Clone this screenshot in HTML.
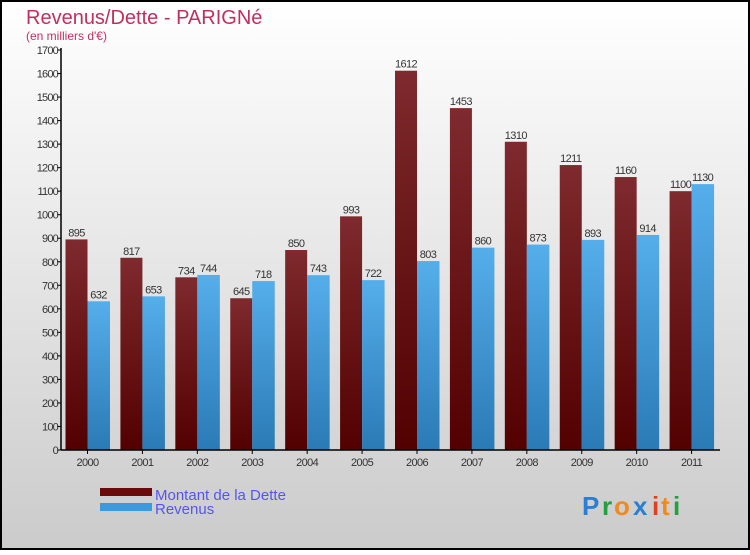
<!DOCTYPE html>
<html><head><meta charset="utf-8"><style>
body{margin:0;width:750px;height:550px;overflow:hidden;font-family:"Liberation Sans",sans-serif}
</style></head><body>
<svg id="c" width="750" height="550" xmlns="http://www.w3.org/2000/svg">
<defs>
<linearGradient id="bg" x1="0" y1="0" x2="0" y2="1"><stop offset="0" stop-color="#ffffff"/><stop offset="1" stop-color="#cbcbcb"/></linearGradient>
<linearGradient id="gd" x1="0" y1="0" x2="0" y2="1"><stop offset="0" stop-color="#7e2a2e"/><stop offset="1" stop-color="#520000"/></linearGradient>
<linearGradient id="gr" x1="0" y1="0" x2="0" y2="1"><stop offset="0" stop-color="#55aeea"/><stop offset="1" stop-color="#2a7ab5"/></linearGradient>
</defs>
<rect x="1" y="1" width="748" height="548" fill="url(#bg)" stroke="#000" stroke-width="2"/>
<text x="26" y="24" font-size="20" fill="#c0305f">Revenus/Dette - PARIGNé</text>
<text x="26" y="40" font-size="12" fill="#c0305f">(en milliers d'€)</text>
<g id="plot"></g>
<rect x="100" y="488" width="52" height="8" fill="#6a0a0a"/>
<rect x="100" y="503" width="52" height="8" fill="#3a9ae0"/>
<text x="155" y="500" font-size="15" fill="#5555ee">Montant de la Dette</text>
<text x="155" y="514" font-size="15" fill="#5555ee">Revenus</text>
<g font-size="26" font-weight="bold">
<text x="582" y="515" fill="#2a7fd0">P</text><text x="602" y="515" fill="#22a040">r</text><text x="614" y="515" fill="#f08a20">o</text><text x="633" y="515" fill="#2a7fd0">x</text><text x="652" y="515" fill="#e04020">i</text><text x="661" y="515" fill="#f08a20">t</text><text x="673" y="515" fill="#22a040">i</text>
</g>
</svg>
<script>
const years=["2000","2001","2002","2003","2004","2005","2006","2007","2008","2009","2010","2011"];
const dette=[895,817,734,645,850,993,1612,1453,1310,1211,1160,1100];
const revenus=[632,653,744,718,743,722,803,860,873,893,914,1130];
const yTicks=[0,100,200,300,400,500,600,700,800,900,1000,1100,1200,1300,1400,1500,1600,1700];
const NS="http://www.w3.org/2000/svg";
const g=document.getElementById('plot');
const X0=61,X1=720,Y0=450,Y1=50,YMAX=1700;
const gw=(X1-X0)/years.length;
const y=v=>Y0-(v/YMAX)*(Y0-Y1);
const xg=i=>X0+i*gw;
function el(t,a,txt){const e=document.createElementNS(NS,t);for(const k in a)e.setAttribute(k,a[k]);if(txt!==undefined)e.textContent=txt;g.appendChild(e);return e;}
yTicks.forEach(v=>{
 const t=el('line',{x1:X0-4,x2:X0,y1:y(v),y2:y(v),stroke:'#000'});
 
 
 const l=el('text',{x:X0-3,y:y(v)+4,'font-size':11,'text-anchor':'end',fill:'#333','letter-spacing':'-0.8'},v);
 
 
});
years.forEach((yr,i)=>{
 const bx=xg(i)+4.5;
 const b1=el('rect',{x:bx,y:y(dette[i]),width:22,height:Y0-y(dette[i]),fill:'url(#gd)'});
 
 
 const b2=el('rect',{x:bx+22,y:y(revenus[i]),width:22.5,height:Y0-y(revenus[i]),fill:'url(#gr)'});
 
 
 const l1=el('text',{x:bx+11,y:y(dette[i])-3,'font-size':11,'text-anchor':'middle',fill:'#333','letter-spacing':'-0.6'},dette[i]);
 
 
 const l2=el('text',{x:bx+33,y:y(revenus[i])-3,'font-size':11,'text-anchor':'middle',fill:'#333','letter-spacing':'-0.6'},revenus[i]);
 
 
 const tk=el('line',{x1:bx+22,x2:bx+22,y1:Y0,y2:Y0+4,stroke:'#000'});
 
 
 const xl=el('text',{x:bx+22,y:Y0+16,'font-size':11,'text-anchor':'middle',fill:'#333','letter-spacing':'-0.6'},yr);
 
 
});
const ax=el('line',{x1:X0,x2:X0,y1:Y1-2,y2:Y0,stroke:'#000','stroke-width':1.5});


const axx=el('line',{x1:X0,x2:X1,y1:Y0,y2:Y0,stroke:'#000','stroke-width':1.5});


</script>
</body></html>
